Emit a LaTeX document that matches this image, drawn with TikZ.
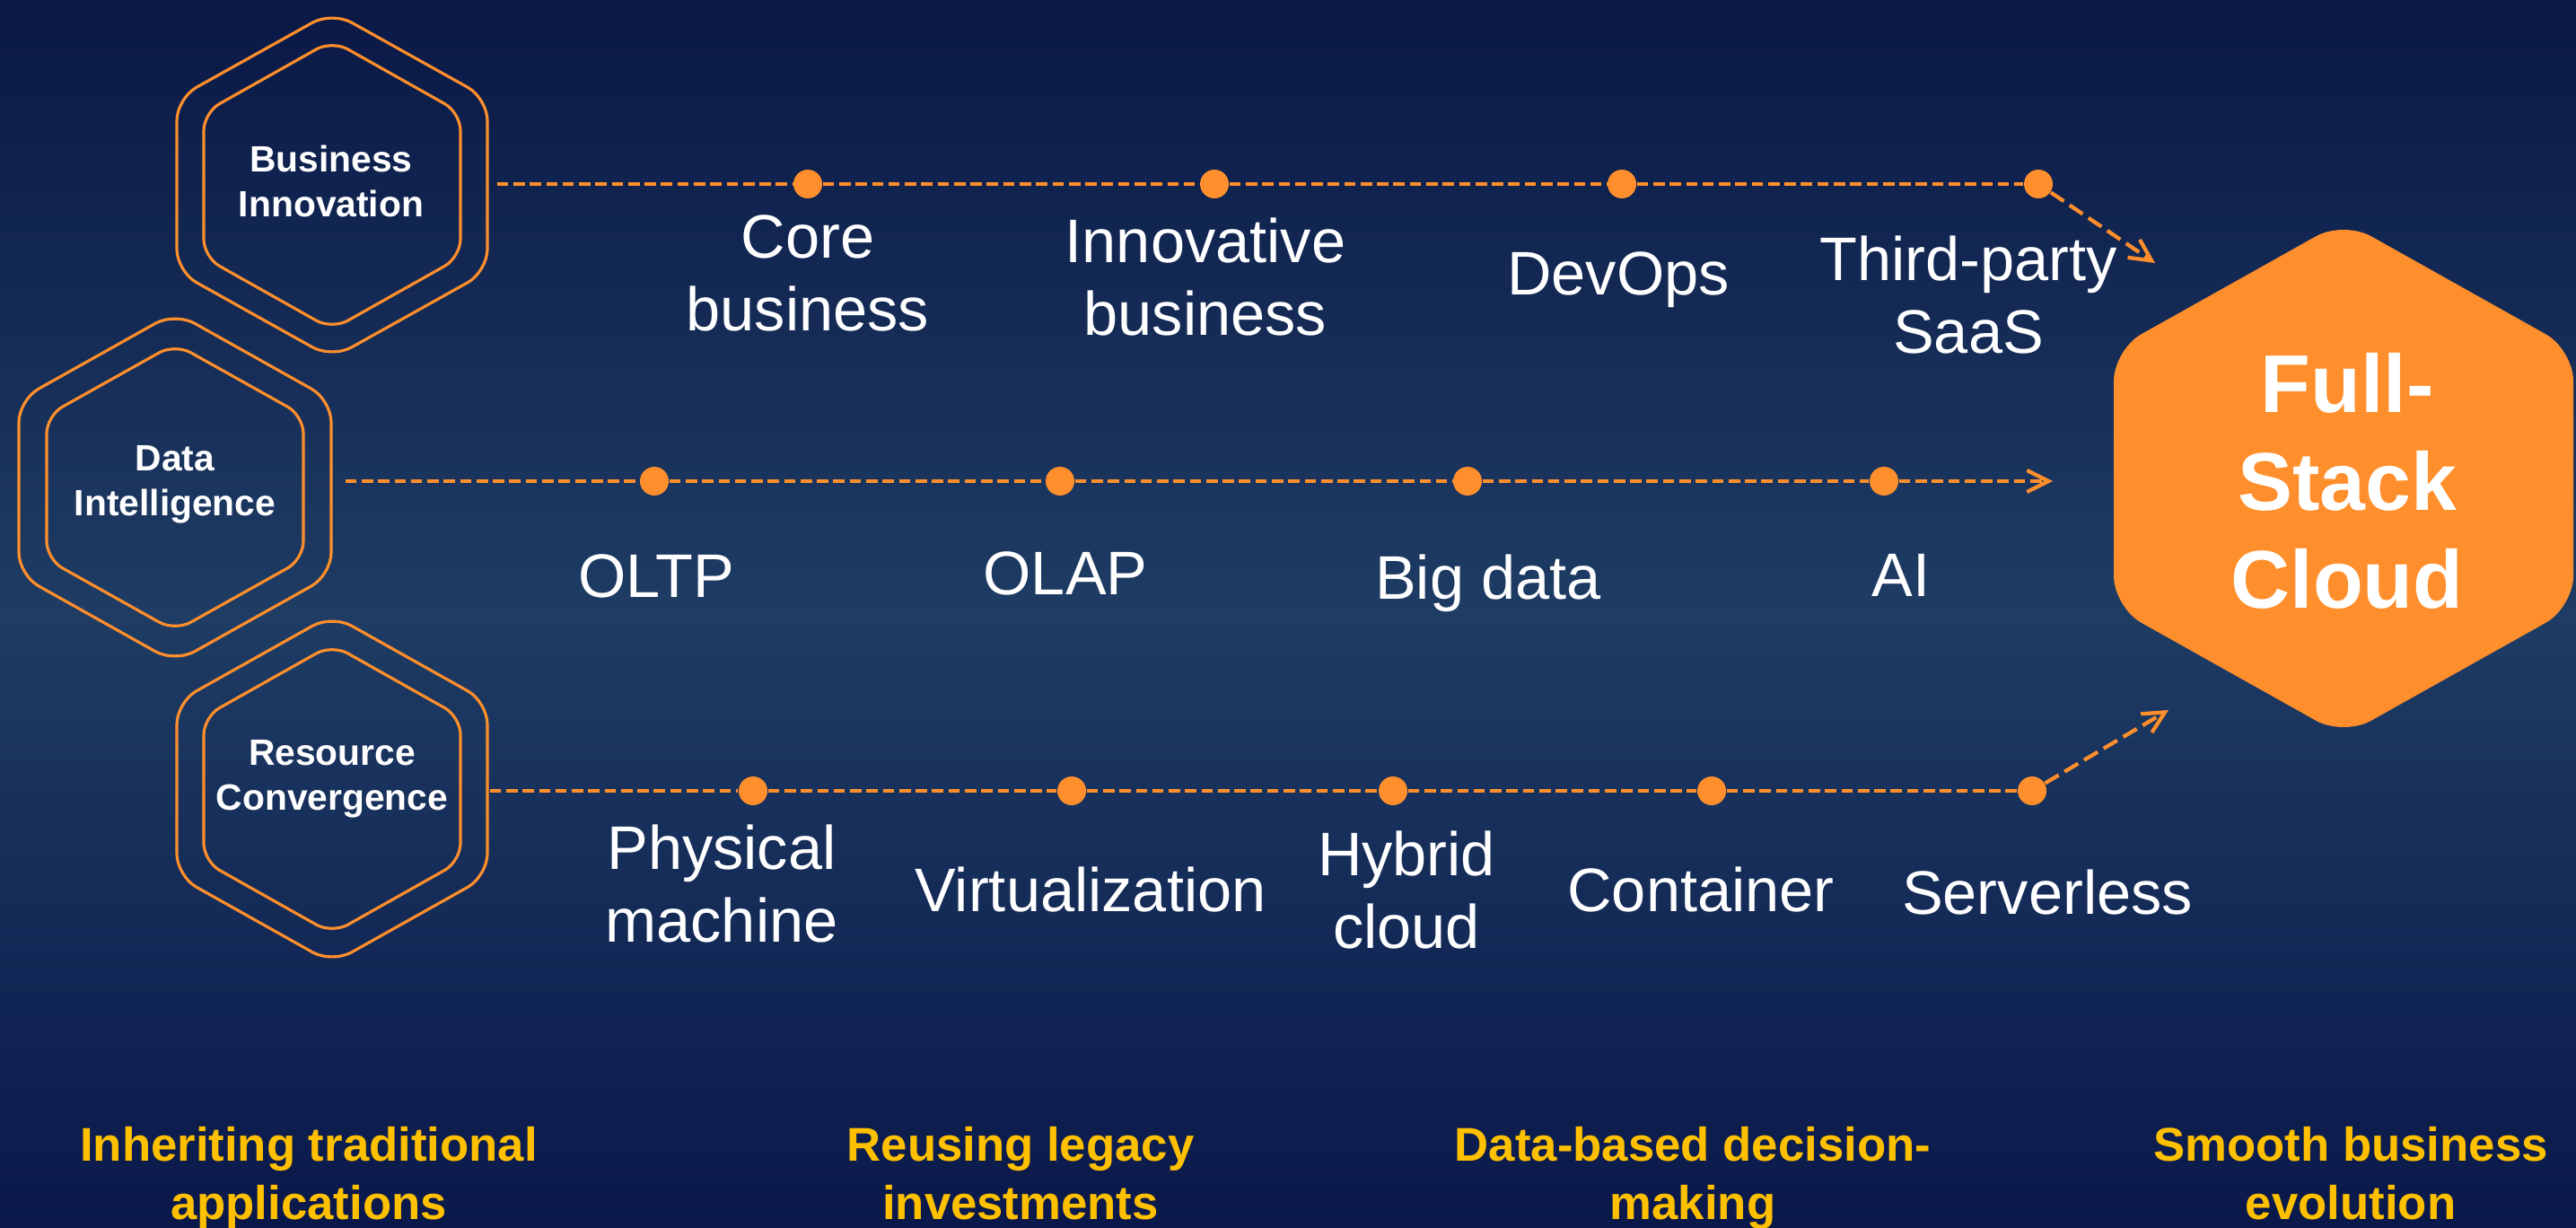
\documentclass[tikz,border=0pt]{standalone}
\usepackage{fontspec}
\setmainfont{Liberation Sans}
\usetikzlibrary{arrows.meta}
\definecolor{navytop}{HTML}{0A1846}
\definecolor{navymid}{HTML}{1E3C64}
\definecolor{navybot}{HTML}{0A184A}
\definecolor{orng}{HTML}{FF8F2C}
\definecolor{gold}{HTML}{FFC000}
% hexagon: [style]{centre}{half height}{half width}
\newcommand{\hexa}[4][]{\draw[#1] (#2) ++(#4,0) -- ++(0,#3/2) -- ++(-#4,#3/2) -- ++(-#4,-#3/2) -- ++(0,-#3) -- ++(#4,-#3/2) -- ++(#4,#3/2) -- cycle;}
\begin{document}
\begin{tikzpicture}[>={Straight Barb[length=2.4mm,width=2.4mm]}, line join=round,
	hexline/.style={draw=orng, line width=0.9pt},
	hextxt/.style={text=white, font=\bfseries\fontsize{11.6}{14.2}\selectfont, align=center, inner sep=0pt},
	lbl/.style={text=white, font=\fontsize{19.5}{23}\selectfont, align=center, anchor=north, inner sep=0pt},
	dotnode/.style={circle, fill=orng, inner sep=0pt, minimum size=3.2mm},
	track/.style={draw=orng, line width=1.2pt, dash pattern=on 3.6pt off 1.6pt},
	turn/.style={track, dash pattern=on 5pt off 2.2pt, ->},
	goaltxt/.style={text=gold, font=\bfseries\fontsize{15}{18.5}\selectfont, align=center, anchor=north, inner sep=0pt}]
	\def\W{28.70} \def\H{13.67} % khung
	\def\ya{11.62} \def\yb{8.31} \def\yc{4.86} % ba hàng
	\useasboundingbox (0,0) rectangle (\W,\H);
	\fill[top color=navytop, bottom color=navybot, middle color=navymid] (0,0) rectangle (\W,\H);
	% hexagons
	\hexa[hexline, rounded corners=0.25cm]{3.70,11.61}{1.93}{1.73}
	\hexa[hexline, rounded corners=0.2cm]{3.70,11.61}{1.61}{1.43}
	\hexa[hexline, rounded corners=0.25cm]{1.95,8.24}{1.95}{1.74}
	\hexa[hexline, rounded corners=0.2cm]{1.95,8.24}{1.60}{1.43}
	\hexa[hexline, rounded corners=0.25cm]{3.70,4.88}{1.94}{1.73}
	\hexa[hexline, rounded corners=0.2cm]{3.70,4.88}{1.61}{1.43}
	\hexa[draw=none, fill=orng, rounded corners=0.35cm]{26.11,8.34}{2.87}{2.56}
	\node[hextxt, minimum width=3.68cm] (biz) at (3.69,11.65) {Business\\Innovation};
	\node[hextxt, minimum width=3.78cm] (data) at (1.95,8.27) {Data\\Intelligence};
	\node[hextxt, minimum width=3.50cm] (res) at (3.70,4.99) {Resource\\Convergence};
	\node[text=white, font=\bfseries\fontsize{26}{31}\selectfont, align=center, inner sep=0pt] (fsc) at (26.15,8.31) {Full-\\Stack\\Cloud};
	% dots
	\foreach \x [count=\i] in {9.00,13.53,18.07,22.71} \node[dotnode] (b\i) at (\x,\ya) {};
	\foreach \x [count=\i] in {7.29,11.81,16.35,20.99} \node[dotnode] (d\i) at (\x,\yb) {};
	\foreach \x [count=\i] in {8.39,11.94,15.52,19.07,22.64} \node[dotnode] (r\i) at (\x,\yc) {};
	\coordinate (bend) at (24.01,10.74);
	\coordinate (dend) at (22.87,\yb);
	\coordinate (rend) at (24.16,5.76);
	% tracks
	\draw[track] (biz.east |- b1) -- (b1) -- (b2) -- (b3) -- (b4);
	\draw[turn] (b4) -- (bend);
	\draw[track, ->] (data.east |- d1) -- (d1) -- (d2) -- (d3) -- (d4) -- (dend);
	\draw[track] (res.east |- r1) -- (r1) -- (r2) -- (r3) -- (r4) -- (r5);
	\draw[turn] (r5) -- (rend);
	% labels
	\node[lbl] (l-core) at (9.00,11.28) {Core\\business};
	\node[lbl] (l-innov) at (13.43,11.25) {Innovative\\business};
	\node[lbl] (l-devops) at (18.03,10.87) {DevOps};
	\node[lbl] (l-saas) at (21.93,11.05) {Third-party\\SaaS};
	\node[lbl] (l-oltp) at (7.31,7.50) {OLTP};
	\node[lbl] (l-olap) at (11.87,7.53) {OLAP};
	\node[lbl] (l-big) at (16.58,7.50) {Big data};
	\node[lbl] (l-ai) at (21.18,7.50) {AI};
	\node[lbl] (l-phys) at (8.04,4.49) {Physical\\machine};
	\node[lbl] (l-virt) at (12.15,4.02) {Virtualization};
	\node[lbl] (l-hyb) at (15.67,4.42) {Hybrid\\cloud};
	\node[lbl] (l-cont) at (18.95,4.02) {Container};
	\node[lbl] (l-srv) at (22.81,3.99) {Serverless};
	% goals
	\node[goaltxt] (g1) at (3.44,1.12) {Inheriting traditional\\applications};
	\node[goaltxt] (g2) at (11.37,1.12) {Reusing legacy\\investments};
	\node[goaltxt] (g3) at (18.86,1.12) {Data-based decision-\\making};
	\node[goaltxt] (g4) at (26.19,1.12) {Smooth business\\evolution};
\end{tikzpicture}
\end{document}
